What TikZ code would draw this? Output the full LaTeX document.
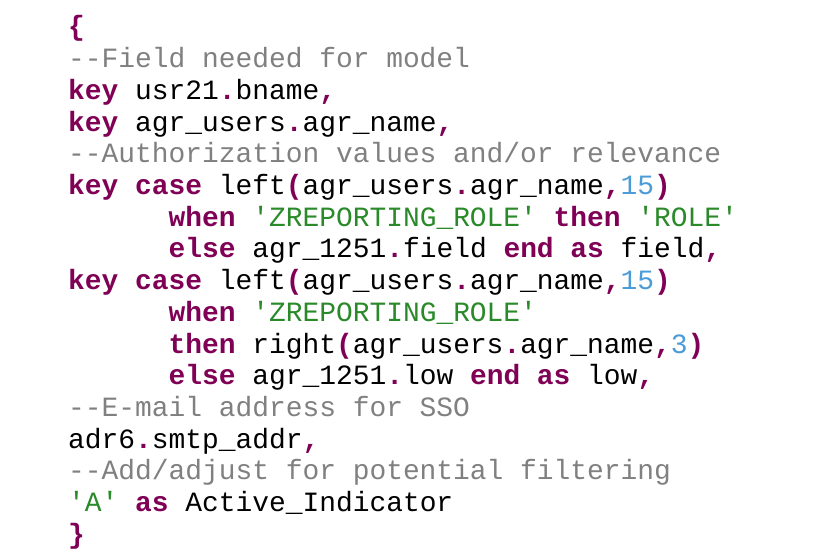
\documentclass[tikz,border=0pt]{standalone}
\usepackage{fontspec}
\setmonofont{Liberation Mono}
\definecolor{kw}{HTML}{7F0055}
\definecolor{cm}{HTML}{808080}
\definecolor{st}{HTML}{2A8A2A}
\definecolor{nm}{HTML}{4A9BD8}
\newcommand{\Kw}[1]{{\bfseries\color{kw}#1}}
\newcommand{\Cm}[1]{{\color{cm}#1}}
\newcommand{\Str}[1]{{\color{st}#1}}
\newcommand{\Nm}[1]{{\color{nm}#1}}
\newcommand{\qq}{\textquotesingle}
\newcommand{\onesp}{\hphantom{x}}
\begin{document}
\begin{tikzpicture}[x=1pt,y=1pt,
  codeline/.style={anchor=base west,inner sep=0pt,font=\ttfamily\fontsize{27.9}{30}\selectfont}]
\useasboundingbox[fill=white] (0,0) rectangle (838,555);
\def\ind{\onesp\onesp\onesp\onesp\onesp\onesp}
\node[codeline] (l1) at (68,{555-36}) {\Kw{\{}};
\node[codeline] (l2) at (68,{555-36-31.7*1}) {\Cm{-{}-Field needed for model}};
\node[codeline] (l3) at (68,{555-36-31.7*2}) {\Kw{key} usr21\Kw{.}bname\Kw{,}};
\node[codeline] (l4) at (68,{555-36-31.7*3}) {\Kw{key} agr\_users\Kw{.}agr\_name\Kw{,}};
\node[codeline] (l5) at (68,{555-36-31.7*4}) {\Cm{-{}-Authorization values and/or relevance}};
\node[codeline] (l6) at (68,{555-36-31.7*5}) {\Kw{key} \Kw{case} left\Kw{(}agr\_users\Kw{.}agr\_name\Kw{,}\Nm{15}\Kw{)}};
\node[codeline] (l7) at (68,{555-36-31.7*6}) {\ind\Kw{when} \Str{\qq ZREPORTING\_ROLE\qq} \Kw{then} \Str{\qq ROLE\qq}};
\node[codeline] (l8) at (68,{555-36-31.7*7}) {\ind\Kw{else} agr\_1251\Kw{.}field \Kw{end} \Kw{as} field\Kw{,}};
\node[codeline] (l9) at (68,{555-36-31.7*8}) {\Kw{key} \Kw{case} left\Kw{(}agr\_users\Kw{.}agr\_name\Kw{,}\Nm{15}\Kw{)}};
\node[codeline] (l10) at (68,{555-36-31.7*9}) {\ind\Kw{when} \Str{\qq ZREPORTING\_ROLE\qq}};
\node[codeline] (l11) at (68,{555-36-31.7*10}) {\ind\Kw{then} right\Kw{(}agr\_users\Kw{.}agr\_name\Kw{,}\Nm{3}\Kw{)}};
\node[codeline] (l12) at (68,{555-36-31.7*11}) {\ind\Kw{else} agr\_1251\Kw{.}low \Kw{end} \Kw{as} low\Kw{,}};
\node[codeline] (l13) at (68,{555-36-31.7*12}) {\Cm{-{}-E-mail address for SSO}};
\node[codeline] (l14) at (68,{555-36-31.7*13}) {adr6\Kw{.}smtp\_addr\Kw{,}};
\node[codeline] (l15) at (68,{555-36-31.7*14}) {\Cm{-{}-Add/adjust for potential filtering}};
\node[codeline] (l16) at (68,{555-36-31.7*15}) {\Str{\qq A\qq} \Kw{as} Active\_Indicator};
\node[codeline] (l17) at (68,{555-36-31.7*16}) {\Kw{\}}};
\end{tikzpicture}
\end{document}
